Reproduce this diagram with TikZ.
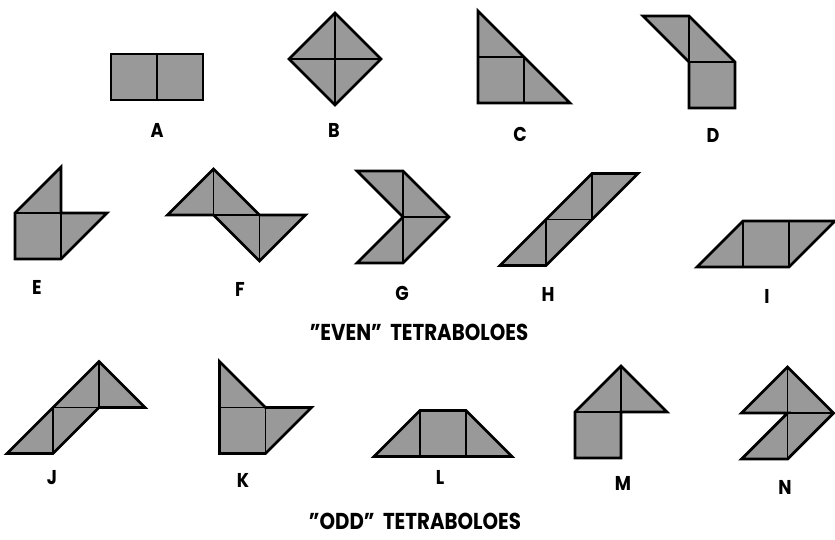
\documentclass[tikz,border=0pt]{standalone}
\usepackage{fontspec}
\setmainfont{Poppins}

\begin{document}
\begin{tikzpicture}[
    x=1pt, y=-1pt,
    piece/.style={fill=black!40, draw=black, line width=2.8pt, line join=miter},
    seam/.style={draw=black, line width=1.5pt},
    at unit/.style={shift={#1}, x=46pt, y=-46pt},
    tag/.style={xscale=0.88, transform shape, font=\fontsize{20}{20}\selectfont\bfseries},
    heading/.style={xscale=0.86, transform shape, inner sep=0pt, font=\fontsize{23}{23}\selectfont\bfseries}
]
\useasboundingbox (0,0) rectangle (835,539);

% even pieces, first row
\begin{scope}[at unit={(111,54)}]
  \draw[piece] (0,0) -- (2,0) -- (2,1) -- (0,1) -- cycle;
  \draw[seam] (1,0) -- (1,1);
\end{scope}
\begin{scope}[at unit={(289,13)}]
  \draw[piece] (1,0) -- (2,1) -- (1,2) -- (0,1) -- cycle;
  \draw[seam] (1,0) -- (1,2) (0,1) -- (2,1);
\end{scope}
\begin{scope}[at unit={(478,11)}]
  \draw[piece] (0,0) -- (2,2) -- (0,2) -- cycle;
  \draw[seam] (0,1) -- (1,1) -- (1,2);
\end{scope}
\begin{scope}[at unit={(643,16)}]
  \draw[piece] (0,0) -- (1,0) -- (2,1) -- (2,2) -- (1,2) -- (1,1) -- cycle;
  \draw[seam] (1,0) -- (1,1) -- (2,1);
\end{scope}

% even pieces, second row
\begin{scope}[at unit={(15,167)}]
  \draw[piece] (1,0) -- (1,1) -- (2,1) -- (1,2) -- (0,2) -- (0,1) -- cycle;
  \draw[seam] (0,1) -- (1,1) -- (1,2);
\end{scope}
\begin{scope}[at unit={(167.5,169)}]
  \draw[piece] (0,1) -- (1,0) -- (2,1) -- (3,1) -- (2,2) -- (1,1) -- cycle;
  \draw[seam] (1,0) -- (1,1) -- (2,1) -- (2,2);
\end{scope}
\begin{scope}[at unit={(357,171)}]
  \draw[piece] (0,0) -- (1,0) -- (2,1) -- (1,2) -- (0,2) -- (1,1) -- cycle;
  \draw[seam] (1,0) -- (1,2) (1,1) -- (2,1);
\end{scope}
\begin{scope}[at unit={(500,173.5)}]
  \draw[piece] (0,2) -- (2,0) -- (3,0) -- (1,2) -- cycle;
  \draw[seam] (2,0) -- (2,1) -- (1,1) -- (1,2);
\end{scope}
\begin{scope}[at unit={(697,221)}]
  \draw[piece] (0,1) -- (1,0) -- (3,0) -- (2,1) -- cycle;
  \draw[seam] (1,0) -- (1,1) (2,0) -- (2,1);
\end{scope}

% odd pieces
\begin{scope}[at unit={(7,361.5)}]
  \draw[piece] (0,2) -- (2,0) -- (3,1) -- (2,1) -- (1,2) -- cycle;
  \draw[seam] (2,0) -- (2,1) (1,1) -- (2,1) (1,1) -- (1,2);
\end{scope}
\begin{scope}[at unit={(219.5,361.5)}]
  \draw[piece] (0,0) -- (1,1) -- (2,1) -- (1,2) -- (0,2) -- cycle;
  \draw[seam] (0,1) -- (1,1) -- (1,2);
\end{scope}
\begin{scope}[at unit={(374,410.5)}]
  \draw[piece] (0,1) -- (1,0) -- (2,0) -- (3,1) -- cycle;
  \draw[seam] (1,0) -- (1,1) (2,0) -- (2,1);
\end{scope}
\begin{scope}[at unit={(575,366)}]
  \draw[piece] (0,2) -- (0,1) -- (1,0) -- (2,1) -- (1,1) -- (1,2) -- cycle;
  \draw[seam] (0,1) -- (1,1) (1,0) -- (1,1);
\end{scope}
\begin{scope}[at unit={(741.5,367)}]
  \draw[piece] (0,1) -- (1,0) -- (2,1) -- (1,2) -- (0,2) -- (1,1) -- cycle;
  \draw[seam] (1,0) -- (1,2) (1,1) -- (2,1);
\end{scope}

% labels
\node[tag] (tagA) at (157,130) {A};
\node[tag] (tagB) at (334,130) {B};
\node[tag] (tagC) at (520,134) {C};
\node[tag] (tagD) at (713,135) {D};
\node[tag] (tagE) at (37,287) {E};
\node[tag] (tagF) at (240,289) {F};
\node[tag] (tagG) at (402,293) {G};
\node[tag] (tagH) at (548,294) {H};
\node[tag] (tagI) at (767,296) {I};
\node[tag] (tagJ) at (52,478) {J};
\node[tag] (tagK) at (243,480) {K};
\node[tag] (tagL) at (440,477) {L};
\node[tag] (tagM) at (623,483) {M};
\node[tag] (tagN) at (785,487) {N};

\node[heading] (even) at (419,332) {''EVEN''\ \ TETRABOLOES};
\node[heading] (odd) at (415,521) {''ODD''\ \ TETRABOLOES};
\end{tikzpicture}
\end{document}
